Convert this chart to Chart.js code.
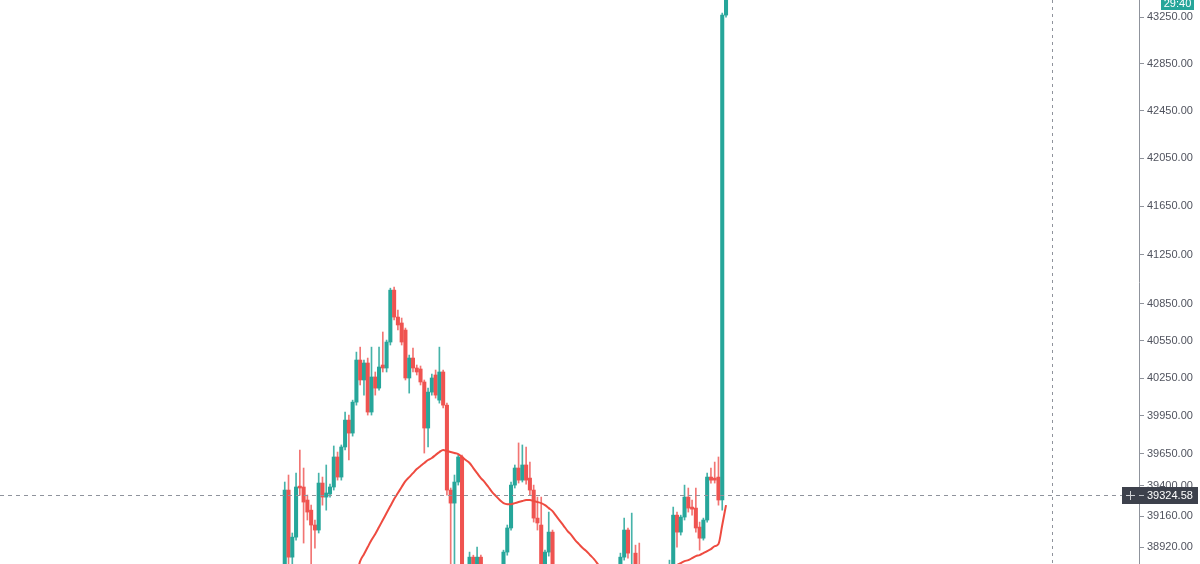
<!DOCTYPE html>
<html>
<head>
<meta charset="utf-8">
<script src="https://cdn.jsdelivr.net/npm/chart.js@4.4.1/dist/chart.umd.min.js"></script>
<style>
html,body{margin:0;padding:0;background:#ffffff;overflow:hidden;}
#wrap{width:1200px;height:564px;position:relative;}
</style>
</head>
<body>
<div id="wrap"><canvas id="c"></canvas></div>
<script>
// ---- data (one entry per candle, oldest first) ----
const candleOpen = [
38704,39364,38842,38997,39395,39388,39286,39207,39091,39052,
39419,39309,39333,39388,39624,39466,39703,39916,39813,40059,
40396,40236,40372,39980,40260,40171,40356,40332,40541,40962,
40743,40695,40638,40252,40412,40332,40324,40220,39853,40139,
40276,40075,40300,40035,39364,39262,39427,39624,38665,38627,
38842,38665,38842,38627,38560,38610,38540,38600,38680,38881,
39068,39403,39537,39442,39561,39458,39364,39145,39091,38665,
38881,39036,38665,38600,38540,38570,38500,38460,38510,38470,
38420,38450,38500,38480,38530,38510,38560,38540,38600,38700,
38842,39052,38720,38873,38700,38620,38580,38540,38600,38560,
38620,38650,38700,38704,39168,39036,39153,39309,39231,39223,
39075,38989,39130,39466,39458,39466,39286,43267];
const candleClose = [
39364,38842,38997,39388,39380,39270,39192,39091,39052,39419,
39309,39341,39388,39624,39466,39703,39916,39813,40059,40396,
40236,40372,39980,40260,40171,40340,40332,40541,40962,40743,
40679,40541,40252,40412,40332,40300,40220,39853,40139,40252,
40115,40300,40035,39364,39262,39427,39624,38665,38590,38842,
38665,38842,38627,38560,38610,38540,38600,38680,38881,39068,
39403,39537,39442,39561,39442,39364,39145,39107,38665,38881,
39036,38665,38600,38540,38570,38500,38460,38510,38470,38420,
38450,38500,38480,38530,38510,38560,38540,38600,38700,38842,
39052,38873,38770,38700,38620,38580,38540,38600,38560,38620,
38650,38700,38760,39168,39036,39153,39309,39223,39215,39068,
38989,39130,39466,39442,39442,39286,43267,43440];
const candleHigh = [
39427,39482,39029,39497,39679,39537,39325,39246,39130,39497,
39466,39561,39411,39711,39663,39719,39980,39956,40075,40460,
40500,40396,40412,40500,40300,40500,40622,40557,40978,40987,
40800,40735,40654,40436,40492,40356,40348,40236,40171,40284,
40316,40500,40316,40051,39380,39482,39640,39640,38704,38881,
38857,38920,38857,38700,38680,38660,38650,38720,38896,39091,
39427,39561,39735,39719,39703,39584,39403,39309,39309,38896,
39192,39052,38700,38640,38610,38600,38530,38550,38540,38500,
38490,38540,38530,38570,38560,38600,38590,38640,38740,38873,
39145,39068,39184,38935,38951,38660,38620,38640,38650,38680,
38700,38760,38819,39231,39192,39168,39403,39380,39286,39380,
39114,39145,39497,39537,39584,39624,43284,43460];
const candleLow = [
38627,38742,38780,38974,39325,38951,39130,38757,38912,39029,
39246,39207,39309,39364,39442,39442,39679,39600,39789,40035,
40196,40115,39956,39956,40115,40155,40300,40300,40517,40719,
40638,40517,40236,40131,40300,40276,40196,39655,39703,40115,
40091,40051,40012,39325,38704,38704,39403,38590,38510,38590,
38627,38627,38590,38500,38480,38470,38500,38560,38640,38857,
39052,39380,39419,39427,39411,39325,39114,39052,38627,38627,
38850,38627,38560,38500,38490,38460,38420,38430,38440,38380,
38390,38430,38450,38460,38480,38490,38510,38520,38580,38680,
38819,38834,38680,38650,38580,38540,38500,38510,38520,38530,
38590,38620,38660,38681,38920,39013,39130,39192,39168,39036,
38896,38974,39114,39419,39419,39246,39207,43250];
// moving average line (null where it has not started yet)
const maValues = [
null,null,null,null,null,null,null,null,null,null,
null,null,null,null,null,null,null,null,null,38700,
38811,38865,38920,38974,39021,39075,39130,39184,39239,39294,
39341,39388,39434,39466,39497,39529,39553,39577,39600,39616,
39640,39663,39679,39671,39663,39655,39647,39624,39600,39577,
39537,39497,39458,39427,39388,39348,39317,39286,39262,39254,
39254,39262,39270,39278,39286,39286,39278,39270,39262,39246,
39223,39199,39160,39122,39083,39044,39013,38974,38943,38912,
38888,38857,38827,38789,38750,38710,38680,38655,38635,38615,
38600,38590,38582,38578,38578,38582,38590,38605,38620,38640,
38665,38690,38720,38750,38781,38796,38811,38819,38834,38850,
38858,38873,38889,38904,38927,38943,39091,39246];
const yTickValues = [38920,39160,39400,39650,39950,40250,40550,40850,41250,41650,42050,42450,42850,43250];
const crosshairPrice = 39324.58;
const countdownLabel = '29:40';

// ---- layout constants ----
const TOTAL_SLOTS = 302, FIRST_SLOT = 75, CROSSHAIR_SLOT = 278.43;
const Y_MIN = 38789, Y_MAX = 43397;
const UP = '#26a69a', DOWN = '#ef5350';
const UP_WICK = 'rgba(38,166,154,0.85)', DOWN_WICK = 'rgba(239,83,80,0.8)';

const labels = Array.from({length: TOTAL_SLOTS}, (_, i) => String(i));
function pad(arr, fill) {
  const out = new Array(TOTAL_SLOTS).fill(fill === undefined ? null : fill);
  arr.forEach((v, i) => { out[FIRST_SLOT + i] = v; });
  return out;
}
const isUp = candleOpen.map((o, i) => candleClose[i] >= o);
const bodies = pad(candleOpen.map((o, i) => [o, candleClose[i]]));
const wicks = pad(candleLow.map((l, i) => [l, candleHigh[i]]));
const bodyColors = pad(isUp.map(u => u ? UP : DOWN), UP);
const wickColors = pad(isUp.map(u => u ? UP_WICK : DOWN_WICK), UP);

const overlay = {
  id: 'overlay',
  afterDraw(chart) {
    const {ctx, chartArea, scales} = chart;
    const y = Math.round(scales.y.getPixelForValue(crosshairPrice)) + 0.5;
    const x = Math.round(scales.x.getPixelForValue(CROSSHAIR_SLOT)) + 0.5;
    ctx.save();
    ctx.strokeStyle = '#8f939c';
    ctx.lineWidth = 1;
    ctx.setLineDash([4, 4]);
    ctx.beginPath(); ctx.moveTo(chartArea.left, y); ctx.lineTo(chartArea.right - 17, y); ctx.stroke();
    ctx.setLineDash([3, 4]);
    ctx.beginPath(); ctx.moveTo(x, chartArea.top); ctx.lineTo(x, chartArea.bottom); ctx.stroke();
    ctx.setLineDash([]);
    // crosshair price label
    const bx = chartArea.right - 17;
    ctx.fillStyle = '#3d414c';
    ctx.fillRect(bx, y - 8.5, 1198 - bx, 17);
    ctx.strokeStyle = '#d0d2d6';
    ctx.beginPath(); ctx.moveTo(bx + 4, y); ctx.lineTo(bx + 13, y); ctx.moveTo(bx + 8.5, y - 4.5); ctx.lineTo(bx + 8.5, y + 4.5); ctx.stroke();
    ctx.strokeStyle = '#b8bbc2';
    ctx.beginPath(); ctx.moveTo(chartArea.right, y); ctx.lineTo(chartArea.right + 5, y); ctx.stroke();
    ctx.fillStyle = '#ffffff';
    ctx.font = '11px "Liberation Sans", Arial, sans-serif';
    ctx.textBaseline = 'middle';
    ctx.textAlign = 'left';
    ctx.fillText(crosshairPrice.toFixed(2), chartArea.right + 8, y + 0.5);
    // countdown box
    ctx.fillStyle = UP;
    ctx.fillRect(1161, -2, 33, 12);
    ctx.fillStyle = '#ffffff';
    ctx.textAlign = 'center';
    ctx.fillText(countdownLabel, 1177.5, 4);
    ctx.restore();
  }
};

new Chart(document.getElementById('c'), {
  type: 'bar',
  data: {
    labels,
    datasets: [
      { type: 'line', data: pad(maValues), borderColor: '#ee4b40', borderWidth: 2,
        pointRadius: 0, cubicInterpolationMode: 'monotone', order: 1 },
      { data: wicks, backgroundColor: wickColors, barThickness: 1, grouped: false, order: 3 },
      { data: bodies, backgroundColor: bodyColors, barThickness: 3.4, grouped: false, minBarLength: 1, order: 2 }
    ]
  },
  options: {
    responsive: true,
    maintainAspectRatio: false,
    animation: false,
    layout: { padding: 0 },
    plugins: { legend: { display: false }, tooltip: { enabled: false } },
    scales: {
      x: { display: false, offset: true },
      y: {
        type: 'logarithmic', position: 'right', min: Y_MIN, max: Y_MAX, bounds: 'data',
        afterBuildTicks: s => { s.ticks = yTickValues.map(v => ({ value: v })); },
        afterFit: s => { s.width = 61; s.paddingTop = 0; s.paddingBottom = 0; },
        grid: { drawOnChartArea: false, drawTicks: true, tickLength: 5, tickColor: '#8f939c', tickWidth: 1 },
        border: { display: true, color: '#8f939c', width: 1 },
        ticks: { autoSkip: false, padding: 3, color: '#50535e',
          font: { family: '"Liberation Sans", Arial, sans-serif', size: 11 },
          callback: v => Number(v).toFixed(2) }
      }
    }
  },
  plugins: [overlay]
});
</script>
</body>
</html>
